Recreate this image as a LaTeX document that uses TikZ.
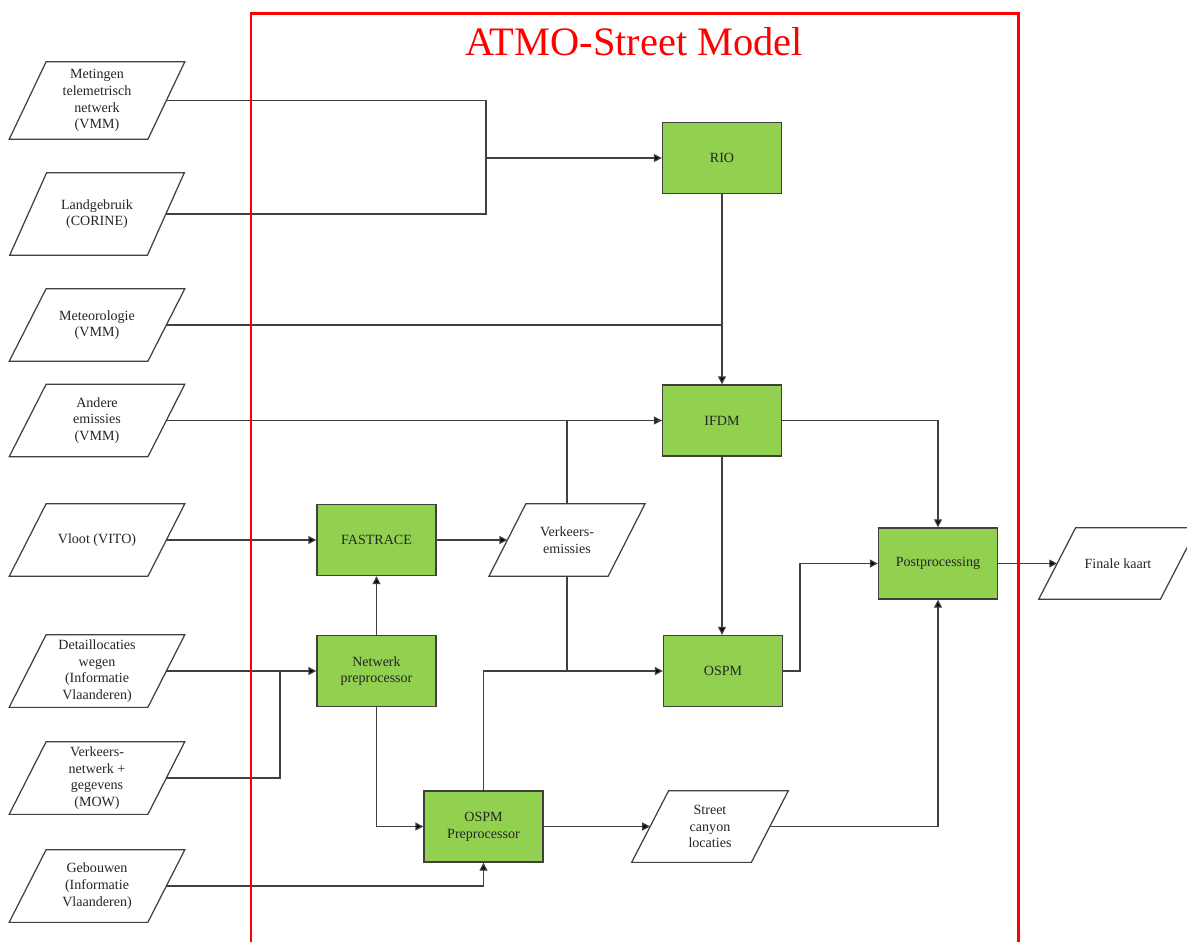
\documentclass[tikz,border=0pt]{standalone}
\usepackage{fontspec}
\setmainfont{Liberation Serif}
\usetikzlibrary{arrows.meta,calc}
\definecolor{boxgreen}{HTML}{92D050}
\definecolor{linegray}{HTML}{404040}
\definecolor{txtgray}{HTML}{262626}
\tikzset{
  x=0.02cm, y=-0.02cm,
  greenbox/.style={draw=linegray, fill=boxgreen, line width=0.8pt, minimum width=2.38cm, minimum height=1.42cm, inner sep=0pt, align=center, font=\fontsize{8}{9.5}\selectfont, text=txtgray},
  paratext/.style={inner sep=0pt, align=center, font=\fontsize{8}{9.5}\selectfont, text=txtgray},
  paraline/.style={draw=linegray, line width=0.7pt, line join=miter},
  conn/.style={draw=linegray, line width=0.7pt},
  arr/.style={conn, -{Triangle[length=4.5pt,width=4.5pt,fill=black]}},
  redframe/.style={draw=red, line width=1.7pt}
}
\newcommand{\mypara}[6]{%
  \node[paratext, minimum width=#4*0.02cm, minimum height=#5*0.02cm] (#1) at (#2,#3) {#6};
  \draw[paraline] ($(#1.south west)+(-18.5,0)$) -- ($(#1.north west)+(18.5,0)$) -- ($(#1.north east)+(18.5,0)$) -- ($(#1.south east)+(-18.5,0)$) -- cycle;}
\begin{document}
\begin{tikzpicture}
\useasboundingbox (0,0) rectangle (1187,941);
\fill[white] (0,0) rectangle (1187,941);

% inputs
\mypara{met}{97}{100.5}{138}{77}{Metingen\\telemetrisch\\netwerk\\(VMM)}
\mypara{land}{97}{214}{137}{82}{Landgebruik\\(CORINE)}
\mypara{meteo}{97}{325}{138}{72}{Meteorologie\\(VMM)}
\mypara{andere}{97}{420.5}{138}{72}{Andere\\emissies\\(VMM)}
\mypara{vloot}{97}{540}{138}{72}{Vloot (VITO)}
\mypara{detail}{97}{671}{138}{72}{Detaillocaties\\wegen\\(Informatie\\Vlaanderen)}
\mypara{verk}{97}{778}{138}{72}{Verkeers-\\netwerk +\\gegevens\\(MOW)}
\mypara{geb}{97}{886}{138}{72}{Gebouwen\\(Informatie\\Vlaanderen)}

% intermediate / outputs
\mypara{vem}{567}{540}{118.5}{72}{Verkeers-\\emissies}
\mypara{sc}{710}{826.5}{119}{71}{Street\\canyon\\locaties}
\mypara{fin}{1118}{563.5}{121}{71}{Finale kaart}

% process boxes
\node[greenbox] (rio) at (722,158) {RIO};
\node[greenbox] (ifdm) at (722,420.5) {IFDM};
\node[greenbox] (fastrace) at (376.5,540) {FASTRACE};
\node[greenbox] (netwerk) at (376.5,671) {Netwerk\\preprocessor};
\node[greenbox] (osprep) at (483.5,826.5) {OSPM\\Preprocessor};
\node[greenbox] (ospm) at (723,671) {OSPM};
\node[greenbox] (post) at (938,563.5) {Postprocessing};

% junction coordinates
\coordinate (jrio) at (486,158);
\coordinate (jnet) at (280,671);
\coordinate (jop) at (800,600);

% connectors
\draw[conn] (met.east) -| (jrio) |- (land.east);
\draw[arr] (jrio) -- (rio.west);
\draw[arr] (rio.south) -- (ifdm.north);
\draw[conn] (meteo.east) -- (meteo.east -| rio.south);
\draw[arr] (andere.east) -- (ifdm.west);
\draw[conn] (vem.north) |- (ifdm.west);
\draw[arr] (vloot.east) -- (fastrace.west);
\draw[arr] (fastrace.east) -- (vem.west);
\draw[arr] (netwerk.north) -- (fastrace.south);
\draw[arr] (detail.east) -- (netwerk.west);
\draw[conn] (verk.east) -| (jnet);
\draw[arr] (netwerk.south) |- (osprep.west);
\draw[arr] (geb.east) -| (osprep.south);
\draw[arr] (osprep.north) |- (ospm.west);
\draw[conn] (vem.south) -- (vem.south |- ospm.west);
\draw[arr] (ifdm.south) -- (ospm.north -| ifdm.south);
\draw[arr] (ospm.east) -| (jop) |- (post.west);
\draw[arr] (ifdm.east) -| (post.north);
\draw[arr] (osprep.east) -- (sc.west);
\draw[arr] (sc.east) -| (post.south);
\draw[arr] (post.east) -- (fin.west);

% red frame and title
\draw[redframe] (251,960) -- (251,13) -- (1018,13) -- (1018,960);
\node[anchor=base, text=red, font=\fontsize{23}{27}\selectfont, inner sep=0pt] (title) at (634,55) {ATMO-Street Model};
\end{tikzpicture}
\end{document}
